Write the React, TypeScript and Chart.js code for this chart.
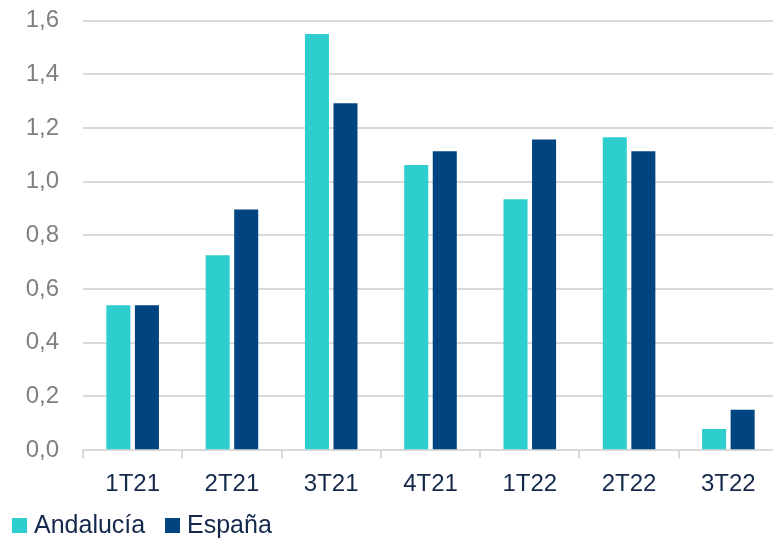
import React, { useEffect, useRef } from "react";
import { Chart, registerables } from "chart.js";

Chart.register(...registerables);

const categories = ["1T21", "2T21", "3T21", "4T21", "1T22", "2T22", "3T22"];
const andalucia = [0.54, 0.726, 1.55, 1.062, 0.934, 1.165, 0.079];
const espana = [0.54, 0.896, 1.292, 1.113, 1.157, 1.113, 0.151];
const seriesNames = ["Andalucía", "España"];
const seriesColors = ["#2ECECE", "#004580"];

const FONT = "'Liberation Sans', Arial, sans-serif";
const TEXT_DARK = "#14284B";

export default function App() {
  const ref = useRef<HTMLCanvasElement | null>(null);

  useEffect(() => {
    if (!ref.current) return;
    const chart = new Chart(ref.current, {
      type: "bar",
      data: {
        labels: categories,
        datasets: [
          {
            label: seriesNames[0],
            data: andalucia,
            backgroundColor: seriesColors[0],
            categoryPercentage: 0.575,
            barPercentage: 0.842,
          },
          {
            label: seriesNames[1],
            data: espana,
            backgroundColor: seriesColors[1],
            categoryPercentage: 0.575,
            barPercentage: 0.842,
          },
        ],
      },
      options: {
        responsive: false,
        animation: false,
        layout: { padding: { top: 20.5, right: 0, left: 0, bottom: 27 } },
        plugins: {
          legend: { display: false },
          tooltip: { enabled: false },
        },
        scales: {
          x: {
            grid: {
              display: true,
              offset: true,
              drawOnChartArea: false,
              drawTicks: true,
              tickLength: 8,
              color: "#D9D9D9",
              lineWidth: 2,
            },
            border: { display: true, color: "#D9D9D9", width: 2 },
            ticks: {
              color: TEXT_DARK,
              font: { family: FONT, size: 24 },
              padding: 12,
              maxRotation: 0,
            },
          },
          y: {
            min: 0,
            max: 1.6,
            afterFit: (scale: any) => {
              scale.width = 83;
            },
            grid: {
              color: "#D9D9D9",
              lineWidth: 2,
              drawTicks: true,
              tickLength: 24,
              tickColor: "rgba(0,0,0,0)",
            },
            border: { display: false },
            ticks: {
              stepSize: 0.2,
              color: "#808080",
              padding: 0,
              font: { family: FONT, size: 24 },
              callback: (v: any) => Number(v).toFixed(1).replace(".", ","),
            },
          },
        },
      },
    });
    return () => chart.destroy();
  }, []);

  const legendItem = (name: string, color: string, left: number) => (
    <div
      key={name}
      style={{
        position: "absolute",
        left,
        top: 510,
        display: "flex",
        alignItems: "center",
        fontFamily: FONT,
        fontSize: 25,
        color: TEXT_DARK,
        lineHeight: "29px",
        whiteSpace: "nowrap",
      }}
    >
      <span
        style={{
          display: "inline-block",
          width: 15,
          height: 15,
          background: color,
          marginRight: 7,
          marginTop: 2,
        }}
      />
      <span>{name}</span>
    </div>
  );

  return (
    <div
      style={{
        position: "fixed",
        left: 0,
        top: 0,
        width: 773,
        height: 538,
        overflow: "hidden",
        background: "#fff",
      }}
    >
      <canvas ref={ref} width={778} height={538} style={{ display: "block" }} />
      {legendItem(seriesNames[0], seriesColors[0], 12)}
      {legendItem(seriesNames[1], seriesColors[1], 165)}
    </div>
  );
}
